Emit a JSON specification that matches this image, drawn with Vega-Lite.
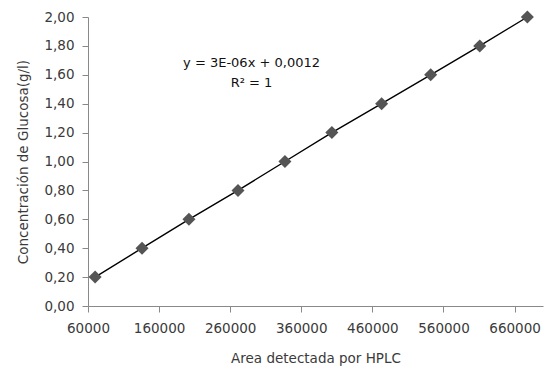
{
  "$schema": "https://vega.github.io/schema/vega-lite/v6.json",
  "width": 455,
  "height": 289,
  "autosize": "none",
  "padding": {"left": 88, "top": 17, "right": 7, "bottom": 63},
  "background": "white",
  "config": {
    "view": {"stroke": null},
    "font": "DejaVu Sans",
    "axis": {
      "labelFont": "DejaVu Sans",
      "titleFont": "DejaVu Sans",
      "labelFontSize": 13.5,
      "titleFontSize": 13.5,
      "labelColor": "#3a3a3a",
      "titleColor": "#3a3a3a",
      "titleFontWeight": "normal",
      "domainColor": "#898989",
      "tickColor": "#898989",
      "tickSize": 6,
      "labelOverlap": false,
      "labelFlush": false,
      "grid": false
    }
  },
  "datasets": {
    "pts": [
      {"area": 70000, "conc": 0.2},
      {"area": 136000, "conc": 0.4},
      {"area": 202000, "conc": 0.6},
      {"area": 271000, "conc": 0.8},
      {"area": 337000, "conc": 1.0},
      {"area": 403000, "conc": 1.2},
      {"area": 473000, "conc": 1.4},
      {"area": 542000, "conc": 1.6},
      {"area": 611000, "conc": 1.8},
      {"area": 678000, "conc": 2.0}
    ],
    "labels": [
      {"area": 290000, "conc": 1.68, "txt": "y = 3E-06x + 0,0012"},
      {"area": 290000, "conc": 1.545, "txt": "R² = 1"}
    ]
  },
  "encoding": {
    "x": {
      "field": "area", "type": "quantitative",
      "scale": {"domain": [60000, 700000], "nice": false, "zero": false},
      "axis": {
        "values": [60000, 160000, 260000, 360000, 460000, 560000, 660000],
        "format": "d",
        "title": "Area detectada por HPLC",
        "labelPadding": 9,
        "titlePadding": 17
      }
    },
    "y": {
      "field": "conc", "type": "quantitative",
      "scale": {"domain": [0, 2], "nice": false},
      "axis": {
        "values": [0, 0.2, 0.4, 0.6, 0.8, 1.0, 1.2, 1.4, 1.6, 1.8, 2.0],
        "labelExpr": "replace(format(datum.value, '.2f'), '.', ',')",
        "title": "Concentración de Glucosa(g/l)",
        "labelPadding": 8,
        "titlePadding": 13
      }
    }
  },
  "layer": [
    {
      "data": {"name": "pts"},
      "mark": {"type": "line", "color": "#000000", "strokeWidth": 1.4}
    },
    {
      "data": {"name": "pts"},
      "mark": {"type": "point", "shape": "diamond", "filled": true, "color": "#555555", "size": 170, "opacity": 1}
    },
    {
      "data": {"name": "labels"},
      "mark": {"type": "text", "font": "DejaVu Sans", "fontSize": 13, "color": "#111111", "align": "center", "baseline": "middle"},
      "encoding": {
        "text": {"field": "txt"}
      }
    }
  ]
}
